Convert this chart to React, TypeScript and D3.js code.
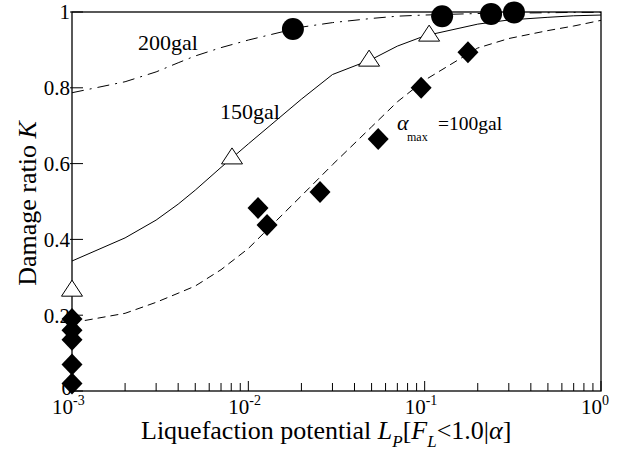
import React, { useEffect, useRef } from "react";
import * as d3 from "d3";

// fitted curves, sampled on a log grid
const gridL = [0.001, 0.002, 0.003, 0.004, 0.005, 0.007, 0.01, 0.02, 0.03, 0.05, 0.07, 0.1, 0.2, 0.3, 0.5, 0.7, 1];
const curve200 = [0.787, 0.816, 0.842, 0.866, 0.884, 0.906, 0.926, 0.96, 0.972, 0.983, 0.989, 0.992, 0.996, 0.997, 0.998, 0.999, 0.999];
const curve150 = [0.343, 0.404, 0.451, 0.493, 0.53, 0.59, 0.652, 0.77, 0.835, 0.875, 0.91, 0.937, 0.968, 0.979, 0.986, 0.99, 0.992];
const curve100 = [0.18, 0.205, 0.234, 0.258, 0.277, 0.32, 0.376, 0.515, 0.597, 0.697, 0.763, 0.82, 0.905, 0.93, 0.951, 0.963, 0.978];

// observed points
const circleL = [0.0179, 0.1256, 0.238, 0.321];
const circleK = [0.955, 0.989, 0.995, 0.999];
const triangleL = [0.001, 0.00808, 0.0484, 0.106];
const triangleK = [0.266, 0.615, 0.873, 0.939];
const diamondL = [0.001, 0.001, 0.001, 0.001, 0.001, 0.01135, 0.01277, 0.0255, 0.0545, 0.0955, 0.176];
const diamondK = [0.19, 0.16, 0.135, 0.07, 0.02, 0.483, 0.438, 0.525, 0.665, 0.8, 0.894];

const yTicks = [0, 0.2, 0.4, 0.6, 0.8, 1];
const xDecades = [-3, -2, -1, 0];

const FONT = "Liberation Serif";

export default function App() {
	const svgRef = useRef<SVGSVGElement | null>(null);

	useEffect(() => {
		if (!svgRef.current) return;
		const width = 623;
		const height = 450;
		const margin = { top: 12, right: 22, bottom: 59, left: 72 };

		const x = d3.scaleLog().domain([1e-3, 1]).range([margin.left, width - margin.right]);
		const y = d3.scaleLinear().domain([0, 1]).range([height - margin.bottom, margin.top]);

		const svg = d3.select(svgRef.current);
		svg.selectAll("*").remove();
		svg.attr("viewBox", `0 0 ${width} ${height}`);

		const x0 = x.range()[0], x1 = x.range()[1];
		const yb = y.range()[0], yt = y.range()[1];

		// frame
		svg.append("rect")
			.attr("x", x0).attr("y", yt)
			.attr("width", x1 - x0).attr("height", yb - yt)
			.attr("fill", "none").attr("stroke", "#000").attr("stroke-width", 1.3);

		// x ticks (inward)
		const minor: number[] = [];
		xDecades.slice(0, -1).forEach((e) => {
			for (let m = 2; m <= 9; m++) minor.push(m * Math.pow(10, e));
		});
		const xAxis = svg.append("g").attr("transform", `translate(0,${yb})`);
		xAxis.selectAll("line.minor")
			.data(minor)
			.enter()
			.append("line")
			.attr("x1", (d) => x(d)).attr("x2", (d) => x(d))
			.attr("y1", 0).attr("y2", -8)
			.attr("stroke", "#000").attr("stroke-width", 1);
		xAxis.selectAll("line.major")
			.data(xDecades)
			.enter()
			.append("line")
			.attr("x1", (d) => x(Math.pow(10, d))).attr("x2", (d) => x(Math.pow(10, d)))
			.attr("y1", 0).attr("y2", -10)
			.attr("stroke", "#000").attr("stroke-width", 1);
		const xl = xAxis.selectAll("g.lab").data(xDecades).enter().append("g");
		xl.append("text")
			.attr("x", (d) => x(Math.pow(10, d)) + 1)
			.attr("y", 23)
			.attr("text-anchor", "end")
			.style("font-family", FONT).attr("font-size", 21)
			.text("10");
		xl.append("text")
			.attr("x", (d) => x(Math.pow(10, d)) + 1)
			.attr("y", 14)
			.style("font-family", FONT).attr("font-size", 14)
			.text((d) => String(d));

		// y ticks (inward)
		const yAxis = svg.append("g").attr("transform", `translate(${x0},0)`);
		yAxis.selectAll("line")
			.data(yTicks)
			.enter()
			.append("line")
			.attr("x1", -2).attr("x2", 11)
			.attr("y1", (d) => y(d)).attr("y2", (d) => y(d))
			.attr("stroke", "#000").attr("stroke-width", 1);
		yAxis.selectAll("text")
			.data(yTicks)
			.enter()
			.append("text")
			.attr("x", (d) => (d === 0 ? 0 : -2))
			.attr("y", (d) => y(d) - (d === 0 ? 3 : 0))
			.attr("dy", "0.35em")
			.attr("text-anchor", "end")
			.style("font-family", FONT).attr("font-size", 21)
			.text((d) => String(d));

		// curves
		const line = d3.line<number>()
			.x((_, i) => x(gridL[i]))
			.y((d) => y(d));
		svg.append("path").attr("d", line(curve200)!).attr("fill", "none")
			.attr("stroke", "#000").attr("stroke-width", 1).attr("stroke-dasharray", "12,6,2,6");
		svg.append("path").attr("d", line(curve150)!).attr("fill", "none")
			.attr("stroke", "#000").attr("stroke-width", 1);
		svg.append("path").attr("d", line(curve100)!).attr("fill", "none")
			.attr("stroke", "#000").attr("stroke-width", 1).attr("stroke-dasharray", "8,5");

		// markers
		svg.selectAll("circle.pt")
			.data(circleL)
			.enter()
			.append("circle")
			.attr("cx", (d) => x(d))
			.attr("cy", (_, i) => y(circleK[i]))
			.attr("r", 11)
			.attr("fill", "#000");
		svg.selectAll("path.tri")
			.data(triangleL)
			.enter()
			.append("path")
			.attr("transform", (d, i) => `translate(${x(d)},${y(triangleK[i])})`)
			.attr("d", "M0,-10L10.5,6L-10.5,6Z")
			.attr("fill", "#fff").attr("stroke", "#000").attr("stroke-width", 1);
		svg.selectAll("path.dia")
			.data(diamondL)
			.enter()
			.append("path")
			.attr("transform", (d, i) => `translate(${x(d)},${y(diamondK[i])})`)
			.attr("d", "M0,-11L10.5,0L0,11L-10.5,0Z")
			.attr("fill", "#000");

		// curve labels
		const lab = (tx: number, ty: number, s: string, size = 22) =>
			svg.append("text").attr("x", tx).attr("y", ty)
				.style("font-family", FONT).attr("font-size", size).text(s);
		lab(138, 50, "200gal");
		lab(220, 119, "150gal");
		svg.append("text").attr("x", 397).attr("y", 130)
			.style("font-family", FONT).attr("font-size", 22).attr("font-style", "italic").text("α");
		lab(407, 141, "max", 12);
		lab(438, 130, "=100gal", 19.5);

		// axis titles
		const xt = svg.append("text").attr("x", 141).attr("y", 439)
			.style("font-family", FONT).attr("font-size", 26);
		xt.append("tspan").text("Liquefaction potential ");
		xt.append("tspan").attr("font-style", "italic").text("L");
		xt.append("tspan").attr("font-style", "italic").attr("font-size", 17).attr("dy", 8).text("P");
		xt.append("tspan").attr("dy", -8).text("[");
		xt.append("tspan").attr("font-style", "italic").text("F");
		xt.append("tspan").attr("font-style", "italic").attr("font-size", 17).attr("dy", 8).text("L");
		xt.append("tspan").attr("dy", -8).text("<1.0|");
		xt.append("tspan").attr("font-style", "italic").text("α");
		xt.append("tspan").text("]");

		const yt2 = svg.append("text")
			.attr("transform", `translate(36,${(yt + yb) / 2 + 2}) rotate(-90)`)
			.attr("text-anchor", "middle")
			.style("font-family", FONT).attr("font-size", 26);
		yt2.append("tspan").text("Damage ratio ");
		yt2.append("tspan").attr("font-style", "italic").text("K");
	}, []);

	return (
		<svg
			ref={svgRef}
			width={623}
			height={450}
			style={{ position: "absolute", left: 0, top: 0, background: "#fff" }}
		/>
	);
}
